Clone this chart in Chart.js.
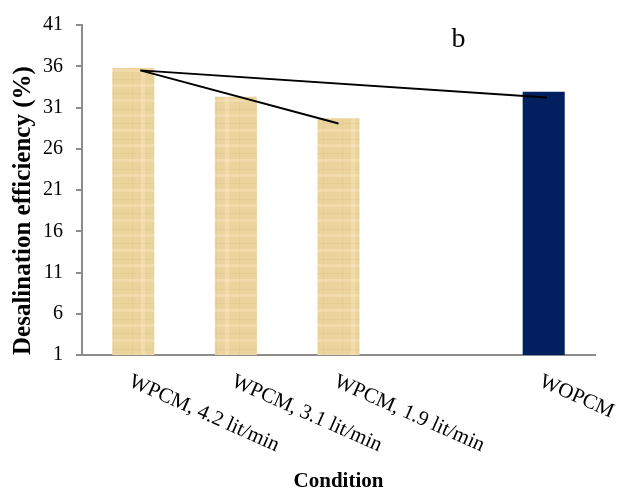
<!DOCTYPE html>
<html>
<head>
<meta charset="utf-8">
<script src="https://cdn.jsdelivr.net/npm/chart.js@4.4.1/dist/chart.umd.min.js"></script>
<style>
  html, body { margin: 0; padding: 0; background: #fff; }
  #wrap { width: 628px; height: 492px; }
</style>
</head>
<body>
<div id="wrap"><canvas id="effChart"></canvas></div>
<script>
// data
var categories = ["WPCM, 4.2 lit/min", "WPCM, 3.1 lit/min", "WPCM, 1.9 lit/min", "", "WOPCM"];
var efficiency = [35.8, 32.3, 29.7, null, 32.9];
var yTicks = [1, 6, 11, 16, 21, 26, 31, 36, 41];
// hand-drawn trend lines, x in category index units
var lineToLow = [{x: 0.07, y: 35.5}, {x: 2.0, y: 29.05}];
var lineToRef = [{x: 0.07, y: 35.5}, {x: 4.03, y: 32.2}];
var panelLetter = "b";

var serif = "'Liberation Serif', 'Times New Roman', serif";
var axisGrey = "#8c8c8c";

// papyrus-like texture for the PCM bars
function papyrus() {
    var c = document.createElement("canvas");
    c.width = 42; c.height = 30;
    var g = c.getContext("2d");
    g.fillStyle = "#ebd39c";
    g.fillRect(0, 0, 42, 30);
    g.fillStyle = "rgba(200,165,100,0.12)";
    [3, 19].forEach(function (y) { g.fillRect(0, y, 42, 1); });
    [6, 29].forEach(function (x) { g.fillRect(x, 0, 1, 30); });
    g.fillStyle = "rgba(255,240,205,0.3)";
    [9, 24].forEach(function (y) { g.fillRect(0, y, 42, 3); });
    g.fillRect(15, 0, 4, 30);
    return g.createPattern(c, "repeat");
}
var pcmFill = papyrus();
var barColors = efficiency.map(function (v, i) { return i === 4 ? "#022060" : pcmFill; });

// draws rotated x labels (down-right) and the panel letter
var extraText = {
    id: "extraText",
    afterDraw: function (chart) {
        var ctx = chart.ctx;
        var xs = chart.scales.x;
        var area = chart.chartArea;
        ctx.save();
        ctx.fillStyle = "#000";
        ctx.font = "21px " + serif;
        ctx.textAlign = "left";
        ctx.textBaseline = "top";
        categories.forEach(function (lab, i) {
            if (!lab) return;
            var px = xs.getPixelForValue(i);
            ctx.save();
            ctx.translate(px + 1, area.bottom + 16);
            ctx.rotate(24 * Math.PI / 180);
            ctx.fillText(lab, 0, 0);
            ctx.restore();
        });
        ctx.font = "28px " + serif;
        ctx.textAlign = "center";
        ctx.textBaseline = "middle";
        ctx.fillText(panelLetter, xs.getPixelForValue(3.17), area.top + 15);
        ctx.restore();
    }
};

new Chart(document.getElementById("effChart"), {
    type: "bar",
    data: {
        labels: categories,
        datasets: [
            {
                type: "bar",
                data: efficiency,
                backgroundColor: barColors,
                borderWidth: 0,
                grouped: false,
                barPercentage: 0.41,
                categoryPercentage: 1.0,
                xAxisID: "x",
                order: 2
            },
            {
                type: "line",
                data: lineToLow,
                xAxisID: "xLine",
                borderColor: "#000",
                borderWidth: 2,
                pointRadius: 0,
                fill: false,
                order: 1
            },
            {
                type: "line",
                data: lineToRef,
                xAxisID: "xLine",
                borderColor: "#000",
                borderWidth: 2,
                pointRadius: 0,
                fill: false,
                order: 1
            }
        ]
    },
    options: {
        responsive: true,
        maintainAspectRatio: false,
        animation: false,
        layout: { padding: { left: 0, right: 33, top: 19, bottom: 0 } },
        plugins: { legend: { display: false }, tooltip: { enabled: false } },
        scales: {
            x: {
                grid: { display: false },
                border: { display: true, color: axisGrey, width: 2 },
                ticks: { display: false },
                title: {
                    display: true,
                    text: "Condition",
                    color: "#000",
                    font: { family: serif, size: 21, weight: "bold" },
                    padding: { top: 0, bottom: -2 }
                },
                afterFit: function (s) { s.height = 137; }
            },
            xLine: {
                type: "linear",
                display: false,
                offset: false,
                min: -0.5,
                max: 4.5
            },
            y: {
                min: 1,
                max: 41,
                afterBuildTicks: function (s) {
                    s.ticks = yTicks.map(function (v) { return {value: v}; });
                },
                grid: { drawOnChartArea: false, drawTicks: true, tickLength: 6, color: axisGrey, lineWidth: 2 },
                border: { display: true, color: axisGrey, width: 2 },
                ticks: {
                    color: "#000",
                    padding: 13,
                    font: { family: serif, size: 20 }
                },
                title: {
                    display: true,
                    text: "Desalination efficiency (%)",
                    align: "start",
                    color: "#000",
                    font: { family: serif, size: 25, weight: "bold" },
                    padding: { top: 9, bottom: 0 }
                },
                afterFit: function (s) { s.width = 82; }
            }
        }
    },
    plugins: [extraText]
});
</script>
</body>
</html>
